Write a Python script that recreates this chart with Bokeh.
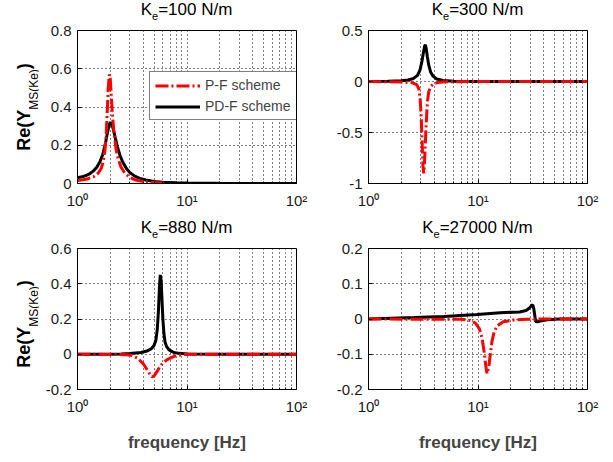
from bokeh.plotting import figure
from bokeh.models import Range1d, FixedTicker, Legend, LegendItem, Div
from bokeh.layouts import column, row
from bokeh.embed import file_html
from bokeh.resources import INLINE

# ---------------- data ----------------
x_ticks = [1, 10, 100]
x_minor_ticks = [2, 3, 4, 5, 6, 7, 8, 9, 20, 30, 40, 50, 60, 70, 80, 90]
x_tick_labels = ["10\u2070", "10\u00b9", "10\u00b2"]

ke_values = ["100", "300", "880", "27000"]
series_names = ["P-F scheme", "PD-F scheme"]
x_label = "frequency [Hz]"

# Ke = 100 N/m
f_pd_100 = [1.0, 1.1, 1.2, 1.3, 1.4, 1.5, 1.6, 1.7, 1.8, 1.87, 1.94, 2.0, 2.06, 2.13, 2.22, 2.32, 2.45, 2.6,
            2.8, 3.0, 3.3, 3.7, 4.2, 5.0, 6.0, 8.0, 10.0, 15.0, 20.0, 40.0, 100.0]
re_pd_100 = [0.030, 0.035, 0.042, 0.052, 0.066, 0.085, 0.112, 0.152, 0.21, 0.26, 0.305, 0.32, 0.31, 0.28, 0.235,
             0.19, 0.145, 0.11, 0.078, 0.058, 0.04, 0.027, 0.018, 0.011, 0.007, 0.004, 0.0025, 0.0012, 0.0008,
             0.0003, 0.0]
f_p_100 = [1.0, 1.2, 1.4, 1.55, 1.65, 1.72, 1.78, 1.83, 1.87, 1.91, 1.95, 1.99, 2.03, 2.08, 2.15, 2.25, 2.35,
           2.5, 2.7, 3.0, 3.4, 4.0, 5.0, 6.0, 6.6]
re_p_100 = [0.015, 0.022, 0.035, 0.055, 0.08, 0.115, 0.17, 0.26, 0.38, 0.5, 0.57, 0.55, 0.47, 0.37, 0.27, 0.18,
            0.13, 0.085, 0.055, 0.032, 0.018, 0.01, 0.005, 0.003, 0.002]

# Ke = 300 N/m
f_pd_300 = [1.0, 1.5, 2.0, 2.3, 2.58, 2.8, 2.95, 3.08, 3.18, 3.26, 3.31, 3.37, 3.45, 3.55, 3.7, 3.9, 4.2, 4.8,
            6.0, 10.0, 100.0]
re_pd_300 = [0.0, 0.002, 0.008, 0.015, 0.03, 0.06, 0.11, 0.2, 0.29, 0.35, 0.36, 0.32, 0.24, 0.16, 0.09, 0.05,
             0.025, 0.01, 0.003, 0.0, 0.0]
f_p_300 = [1.0, 2.0, 2.5, 2.75, 2.88, 2.96, 3.03, 3.09, 3.14, 3.19, 3.24, 3.3, 3.37, 3.45, 3.55, 3.7, 3.9, 4.3,
           5.0, 10.0, 100.0]
re_p_300 = [0.0, -0.005, -0.012, -0.03, -0.07, -0.16, -0.35, -0.6, -0.82, -0.9, -0.82, -0.62, -0.4, -0.2, -0.1,
            -0.05, -0.025, -0.01, -0.003, 0.0, 0.0]

# Ke = 880 N/m
f_pd_880 = [1.0, 2.0, 2.5, 3.0, 3.8, 4.3, 4.7, 5.0, 5.2, 5.35, 5.48, 5.6, 5.7, 5.8, 5.9, 6.02, 6.15, 6.3, 6.5,
            6.85, 7.6, 8.5, 10.0, 20.0, 100.0]
re_pd_880 = [0.0, 0.0, 0.002, 0.004, 0.01, 0.018, 0.03, 0.05, 0.08, 0.14, 0.24, 0.38, 0.45, 0.42, 0.32, 0.2,
             0.12, 0.07, 0.045, 0.025, 0.01, 0.005, 0.002, 0.0, 0.0]
f_p_880 = [1.0, 2.5, 3.0, 3.5, 4.0, 4.3, 4.55, 4.8, 5.05, 5.3, 5.6, 6.0, 6.6, 7.6, 8.8, 10.0, 100.0]
re_p_880 = [0.0, -0.001, -0.004, -0.02, -0.055, -0.085, -0.11, -0.13, -0.12, -0.1, -0.075, -0.05, -0.03,
            -0.012, -0.004, 0.0, 0.0]

# Ke = 27000 N/m
f_pd_27000 = [1.0, 2.6, 4.9, 9.8, 16.0, 24.0, 27.5, 29.5, 30.8, 31.6, 32.3, 33.0, 33.6, 35.0, 38.0, 43.0, 55.0,
              100.0]
re_pd_27000 = [0.0, 0.004, 0.007, 0.013, 0.018, 0.02, 0.024, 0.031, 0.038, 0.04, 0.03, 0.01, -0.007, -0.008,
               -0.005, -0.002, 0.0, 0.0]
f_p_27000 = [1.0, 7.0, 8.5, 9.5, 10.3, 10.9, 11.4, 11.8, 12.1, 12.5, 12.9, 13.4, 14.0, 14.9, 17.0, 21.0, 28.0,
             40.0, 100.0]
re_p_27000 = [0.0, -0.001, -0.004, -0.012, -0.028, -0.055, -0.095, -0.135, -0.155, -0.14, -0.105, -0.065,
              -0.038, -0.02, -0.008, -0.003, -0.001, 0.0, 0.0]

yticks_100 = [0, 0.2, 0.4, 0.6, 0.8]
ylabels_100 = ["0", "0.2", "0.4", "0.6", "0.8"]
yticks_300 = [-1, -0.5, 0, 0.5]
ylabels_300 = ["-1", "-0.5", "0", "0.5"]
yticks_880 = [-0.2, 0, 0.2, 0.4, 0.6]
ylabels_880 = ["-0.2", "0", "0.2", "0.4", "0.6"]
yticks_27000 = [-0.2, -0.1, 0, 0.1, 0.2]
ylabels_27000 = ["-0.2", "-0.1", "0", "0.1", "0.2"]

# ---------------- styling ----------------
FONT = "Liberation Sans"
RED = "#ff0000"
BLACK = "#000000"


def make_panel(fp, vp, fpd, vpd, yticks, ylabels, w, h, bl, br, bt, bb, xlab, legend=False):
    p = figure(width=w, height=h, x_axis_type="log", output_backend="svg", toolbar_location=None,
               min_border_left=bl, min_border_right=br, min_border_top=bt, min_border_bottom=bb)
    p.x_range = Range1d(x_ticks[0], x_ticks[-1])
    p.y_range = Range1d(yticks[0], yticks[-1])
    p.outline_line_color = "black"
    p.outline_line_width = 1
    p.outline_line_alpha = 1
    p.background_fill_color = "white"
    p.border_fill_color = "white"

    p.xaxis.ticker = FixedTicker(ticks=x_ticks, minor_ticks=x_minor_ticks)
    p.xaxis.major_label_overrides = {t: l for t, l in zip(x_ticks, x_tick_labels)}
    p.yaxis.ticker = FixedTicker(ticks=yticks)
    p.yaxis.major_label_overrides = {t: l for t, l in zip(yticks, ylabels)}

    for ax in (p.xaxis[0], p.yaxis[0]):
        ax.axis_line_color = "black"
        ax.major_tick_in = 4
        ax.major_tick_out = 0
        ax.minor_tick_in = 2
        ax.minor_tick_out = 0
        ax.major_tick_line_color = "black"
        ax.major_label_text_font = FONT
        ax.major_label_text_font_size = "15px"
        ax.major_label_text_color = "#1a1a1a"
    p.yaxis.minor_tick_line_color = None
    p.yaxis.major_label_standoff = 6
    p.xaxis.major_label_standoff = 8
    p.xaxis.minor_tick_line_color = "black"

    p.xgrid.grid_line_color = "black"
    p.xgrid.grid_line_dash = "1 3"
    p.xgrid.grid_line_width = 1
    p.xgrid.minor_grid_line_color = "black"
    p.xgrid.minor_grid_line_dash = "1 3"
    p.ygrid.grid_line_color = "black"
    p.ygrid.grid_line_dash = "1 3"

    r_black = p.line(fpd, vpd, line_color=BLACK, line_width=3)
    r_red = p.line(fp, vp, line_color=RED, line_width=3, line_dash="13 3 2 3")

    if xlab:
        p.xaxis.axis_label = x_label
        p.xaxis.axis_label_text_font = FONT
        p.xaxis.axis_label_text_font_size = "17px"
        p.xaxis.axis_label_text_font_style = "bold"
        p.xaxis.axis_label_standoff = 15

    if legend:
        lg = Legend(items=[LegendItem(label=series_names[0], renderers=[r_red]),
                           LegendItem(label=series_names[1], renderers=[r_black])],
                    location=(72, 63), label_text_font=FONT, label_text_font_size="14px",
                    glyph_width=45, glyph_height=15, label_height=15, spacing=5, padding=5, margin=0,
                    label_standoff=5, border_line_color="black", border_line_width=1,
                    background_fill_color="white", background_fill_alpha=1)
        p.add_layout(lg)
    return p


def title_div(ke, width, height, xc, ty):
    html = (f'<div style="position:relative;width:{width}px;height:{height}px;">'
            f'<span style="position:absolute;left:{xc}px;top:{ty}px;width:max-content;'
            f'transform:translateX(-50%);'
            f'white-space:nowrap;font-family:\'{FONT}\';font-size:17px;line-height:17px;color:#000;">'
            f'K<span style="position:relative;top:4.5px;font-size:11px;">e</span>={ke} N/m</span></div>')
    return Div(text=html, width=width, height=height, margin=0)


def ylabel_div(width, height, left, yc):
    # vertical text (bottom-to-top) kept inside the div's own box
    html = (f'<div style="position:relative;width:{width}px;height:{height}px;">'
            f'<span style="position:absolute;left:{left}px;top:{yc}px;'
            f'writing-mode:vertical-rl;transform:translateY(-50%) rotate(180deg);white-space:nowrap;'
            f'font-family:\'{FONT}\';font-size:18px;font-weight:bold;line-height:20px;color:#000;">'
            f'Re(Y<span style="position:relative;left:-10px;font-size:12px;font-weight:normal;">MS(Ke)</span>)'
            f'</span></div>')
    return Div(text=html, width=width, height=height, margin=0)


p1 = make_panel(f_p_100, re_p_100, f_pd_100, re_pd_100, yticks_100, ylabels_100,
                292, 194, 39, 34, 9, 32, False, legend=True)
p2 = make_panel(f_p_300, re_p_300, f_pd_300, re_pd_300, yticks_300, ylabels_300,
                275, 194, 38, 18, 9, 32, False)
p3 = make_panel(f_p_880, re_p_880, f_pd_880, re_pd_880, yticks_880, ylabels_880,
                292, 215, 39, 34, 9, 54, True)
p4 = make_panel(f_p_27000, re_p_27000, f_pd_27000, re_pd_27000, yticks_27000, ylabels_27000,
                275, 215, 38, 18, 9, 54, True)

t1 = title_div(ke_values[0], 330, 21, 186.5, 1.3)
t2 = title_div(ke_values[1], 275, 21, 147.5, 1.3)
t3 = title_div(ke_values[2], 330, 24, 186.5, 4.3)
t4 = title_div(ke_values[3], 275, 24, 147.5, 4.3)
yl1 = ylabel_div(38, 194, 13.8, 85.5)
yl3 = ylabel_div(38, 215, 13.8, 85.0)

layout = column(
    row(t1, t2, spacing=0),
    row(yl1, p1, p2, spacing=0),
    row(t3, t4, spacing=0),
    row(yl3, p3, p4, spacing=0),
    spacing=0,
)
open("out.html", "w").write(file_html(layout, INLINE))
